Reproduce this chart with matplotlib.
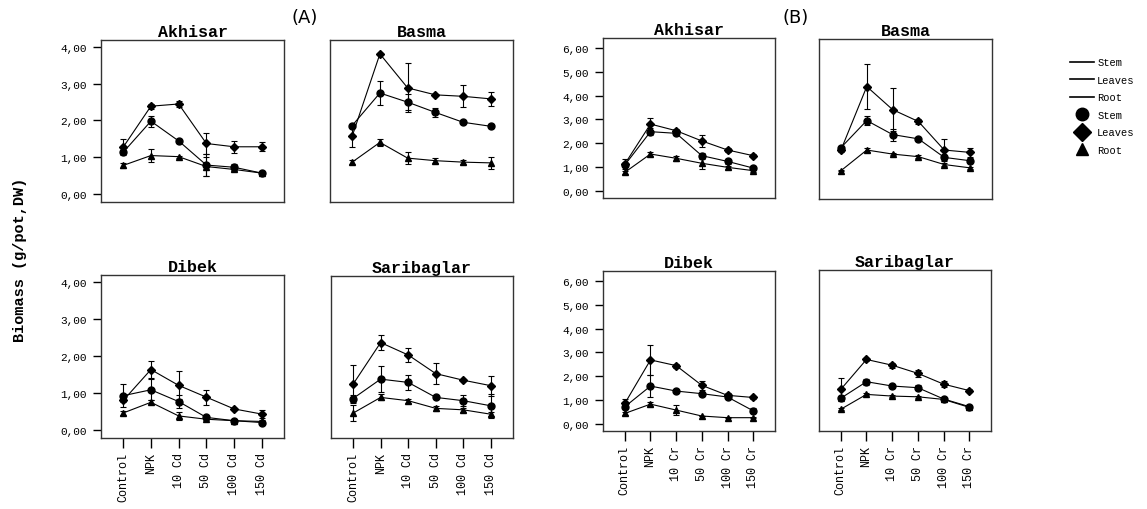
import numpy as np
import matplotlib
matplotlib.use('Agg')
import matplotlib.pyplot as plt
from matplotlib.lines import Line2D
from matplotlib.ticker import FuncFormatter

# данные
cats_cd = ['Control', 'NPK', '10 Cd', '50 Cd', '100 Cd', '150 Cd']
cats_cr = ['Control', 'NPK', '10 Cr', '50 Cr', '100 Cr', '150 Cr']

# (A) Cd
a_akhisar_leaves = [1.27, 2.39, 2.45, 1.37, 1.28, 1.28]
a_akhisar_leaves_err = [0.22, 0.07, 0.08, 0.30, 0.16, 0.12]
a_akhisar_stem = [1.13, 1.98, 1.44, 0.78, 0.72, 0.56]
a_akhisar_stem_err = [0.05, 0.15, 0.06, 0.30, 0.08, 0.03]
a_akhisar_root = [0.77, 1.04, 1.01, 0.74, 0.66, 0.56]
a_akhisar_root_err = [0.06, 0.18, 0.03, 0.25, 0.05, 0.02]

a_basma_leaves = [1.57, 3.82, 2.89, 2.70, 2.66, 2.59]
a_basma_leaves_err = [0.30, 0.02, 0.67, 0.03, 0.30, 0.19]
a_basma_stem = [1.86, 2.75, 2.50, 2.22, 1.95, 1.84]
a_basma_stem_err = [0.03, 0.32, 0.22, 0.12, 0.03, 0.06]
a_basma_root = [0.86, 1.40, 0.97, 0.90, 0.86, 0.84]
a_basma_root_err = [0.06, 0.10, 0.16, 0.06, 0.06, 0.16]

a_dibek_leaves = [0.79, 1.63, 1.20, 0.88, 0.56, 0.42]
a_dibek_leaves_err = [0.05, 0.24, 0.38, 0.20, 0.03, 0.12]
a_dibek_stem = [0.92, 1.08, 0.76, 0.33, 0.24, 0.19]
a_dibek_stem_err = [0.32, 0.28, 0.18, 0.05, 0.03, 0.05]
a_dibek_root = [0.45, 0.74, 0.37, 0.28, 0.24, 0.22]
a_dibek_root_err = [0.05, 0.05, 0.12, 0.03, 0.03, 0.03]

a_sari_leaves = [1.24, 2.38, 2.04, 1.53, 1.35, 1.20]
a_sari_leaves_err = [0.52, 0.20, 0.18, 0.28, 0.03, 0.27]
a_sari_stem = [0.85, 1.38, 1.29, 0.88, 0.79, 0.65]
a_sari_stem_err = [0.10, 0.35, 0.20, 0.05, 0.15, 0.32]
a_sari_root = [0.45, 0.88, 0.79, 0.58, 0.54, 0.42]
a_sari_root_err = [0.22, 0.08, 0.06, 0.06, 0.06, 0.06]

# (B) Cr
b_akhisar_leaves = [1.12, 2.80, 2.52, 2.09, 1.71, 1.47]
b_akhisar_leaves_err = [0.20, 0.27, 0.08, 0.25, 0.08, 0.06]
b_akhisar_stem = [1.08, 2.48, 2.41, 1.47, 1.23, 0.95]
b_akhisar_stem_err = [0.10, 0.15, 0.08, 0.12, 0.10, 0.08]
b_akhisar_root = [0.77, 1.54, 1.36, 1.15, 0.98, 0.84]
b_akhisar_root_err = [0.06, 0.10, 0.10, 0.25, 0.05, 0.05]

b_basma_leaves = [1.75, 4.42, 3.45, 2.95, 1.75, 1.65]
b_basma_leaves_err = [0.10, 0.95, 0.90, 0.10, 0.45, 0.20]
b_basma_stem = [1.85, 2.99, 2.40, 2.22, 1.44, 1.30]
b_basma_stem_err = [0.08, 0.20, 0.25, 0.05, 0.10, 0.10]
b_basma_root = [0.88, 1.75, 1.58, 1.47, 1.14, 1.00]
b_basma_root_err = [0.03, 0.10, 0.05, 0.05, 0.05, 0.05]

b_dibek_leaves = [0.85, 2.68, 2.44, 1.61, 1.19, 1.10]
b_dibek_leaves_err = [0.20, 0.64, 0.08, 0.18, 0.10, 0.08]
b_dibek_stem = [0.71, 1.58, 1.37, 1.26, 1.12, 0.54]
b_dibek_stem_err = [0.08, 0.45, 0.05, 0.08, 0.05, 0.10]
b_dibek_root = [0.43, 0.82, 0.57, 0.32, 0.25, 0.25]
b_dibek_root_err = [0.05, 0.08, 0.22, 0.02, 0.02, 0.02]

b_sari_leaves = [1.43, 2.68, 2.44, 2.10, 1.65, 1.38]
b_sari_leaves_err = [0.48, 0.05, 0.10, 0.15, 0.12, 0.05]
b_sari_stem = [1.06, 1.75, 1.57, 1.50, 1.03, 0.71]
b_sari_stem_err = [0.10, 0.12, 0.08, 0.10, 0.05, 0.05]
b_sari_root = [0.60, 1.22, 1.15, 1.12, 1.01, 0.68]
b_sari_root_err = [0.04, 0.04, 0.04, 0.04, 0.04, 0.04]

W, H = 1147, 510
mono = 'Liberation Mono'

fig = plt.figure(figsize=(W / 100, H / 100), dpi=100)


def add_ax(x0, x1, y0, y1):
    # пиксели -> доли фигуры
    return fig.add_axes([x0 / W, 1 - y1 / H, (x1 - x0) / W, (y1 - y0) / H])


def comma_fmt(v, pos):
    return f'{v:.2f}'.replace('.', ',')


def panel(ax, title, cats, leaves, le, stem, se, root, re_, ylim, yticks,
          show_y, show_x, xlim):
    x = np.arange(len(cats))
    for vals, err, mk, ms in [(leaves, le, 'D', 3.8), (stem, se, 'o', 5),
                              (root, re_, '^', 4.5)]:
        ax.errorbar(x, vals, yerr=err, color='black', lw=0.8, marker=mk,
                    markersize=ms, capsize=2.5, elinewidth=0.8, capthick=0.8)
    ax.set_xlim(*xlim)
    ax.set_ylim(*ylim)
    ax.set_title(title, fontfamily=mono, fontweight='bold', fontsize=12, pad=3)
    for s in ax.spines.values():
        s.set_color('#333333')
        s.set_linewidth(1.0)
    if show_y:
        ax.set_yticks(yticks)
        ax.yaxis.set_major_formatter(FuncFormatter(comma_fmt))
        ax.tick_params(axis='y', length=6, width=1, labelsize=8, pad=4)
        for t in ax.get_yticklabels():
            t.set_fontfamily(mono)
    else:
        ax.set_yticks([])
    if show_x:
        ax.set_xticks(x)
        ax.set_xticklabels(cats, rotation=90, fontfamily=mono, fontsize=8.5)
        ax.tick_params(axis='x', length=7, width=1, pad=3)
    else:
        ax.set_xticks([])


ylim_a = (-0.23, 4.2)
yt_a = [0, 1, 2, 3, 4]
ylim_b = (-0.31, 6.42)
yt_b = [0, 1, 2, 3, 4, 5, 6]
xl_a = (-0.8, 5.8)
xl_b = (-0.85, 5.85)

ax = add_ax(101, 284, 41, 203)
panel(ax, 'Akhisar', cats_cd, a_akhisar_leaves, a_akhisar_leaves_err, a_akhisar_stem,
      a_akhisar_stem_err, a_akhisar_root, a_akhisar_root_err, ylim_a, yt_a, True, False, xl_a)
ax = add_ax(330, 513, 41, 203)
panel(ax, 'Basma', cats_cd, a_basma_leaves, a_basma_leaves_err, a_basma_stem,
      a_basma_stem_err, a_basma_root, a_basma_root_err, ylim_a, yt_a, False, False, xl_a)
ax = add_ax(101, 284, 276, 439)
panel(ax, 'Dibek', cats_cd, a_dibek_leaves, a_dibek_leaves_err, a_dibek_stem,
      a_dibek_stem_err, a_dibek_root, a_dibek_root_err, ylim_a, yt_a, True, True, xl_a)
ax = add_ax(331, 513, 277, 439)
panel(ax, 'Saribaglar', cats_cd, a_sari_leaves, a_sari_leaves_err, a_sari_stem,
      a_sari_stem_err, a_sari_root, a_sari_root_err, ylim_a, yt_a, False, True, xl_a)

ax = add_ax(603, 775, 39, 199)
panel(ax, 'Akhisar', cats_cr, b_akhisar_leaves, b_akhisar_leaves_err, b_akhisar_stem,
      b_akhisar_stem_err, b_akhisar_root, b_akhisar_root_err, ylim_b, yt_b, True, False, xl_b)
ax = add_ax(819, 992, 40, 200)
panel(ax, 'Basma', cats_cr, b_basma_leaves, b_basma_leaves_err, b_basma_stem,
      b_basma_stem_err, b_basma_root, b_basma_root_err, ylim_b, yt_b, False, False, xl_b)
ax = add_ax(603, 775, 272, 432)
panel(ax, 'Dibek', cats_cr, b_dibek_leaves, b_dibek_leaves_err, b_dibek_stem,
      b_dibek_stem_err, b_dibek_root, b_dibek_root_err, ylim_b, yt_b, True, True, xl_b)
ax = add_ax(819, 991, 271, 432)
panel(ax, 'Saribaglar', cats_cr, b_sari_leaves, b_sari_leaves_err, b_sari_stem,
      b_sari_stem_err, b_sari_root, b_sari_root_err, ylim_b, yt_b, False, True, xl_b)

fig.text(305 / W, 1 - 18 / H, '(A)', fontsize=13, ha='center', va='center')
fig.text(796 / W, 1 - 18 / H, '(B)', fontsize=13, ha='center', va='center')
fig.text(20 / W, 0.49, 'Biomass (g/pot,DW)', rotation=90, fontfamily=mono,
         fontweight='bold', fontsize=11, ha='center', va='center')

handles = [Line2D([], [], color='black', lw=1.2),
           Line2D([], [], color='black', lw=1.2),
           Line2D([], [], color='black', lw=1.2),
           Line2D([], [], color='black', lw=0, marker='o', markersize=9),
           Line2D([], [], color='black', lw=0, marker='D', markersize=9),
           Line2D([], [], color='black', lw=0, marker='^', markersize=9)]
labels = ['Stem', 'Leaves', 'Root', 'Stem', 'Leaves', 'Root']
fig.legend(handles, labels, loc='upper left', bbox_to_anchor=(1066 / W, 1 - 54 / H),
           frameon=False, prop={'family': mono, 'size': 7.5}, handlelength=2.3,
           handletextpad=0.3, labelspacing=0.72, borderaxespad=0)

fig.savefig('out.png', dpi=100)
